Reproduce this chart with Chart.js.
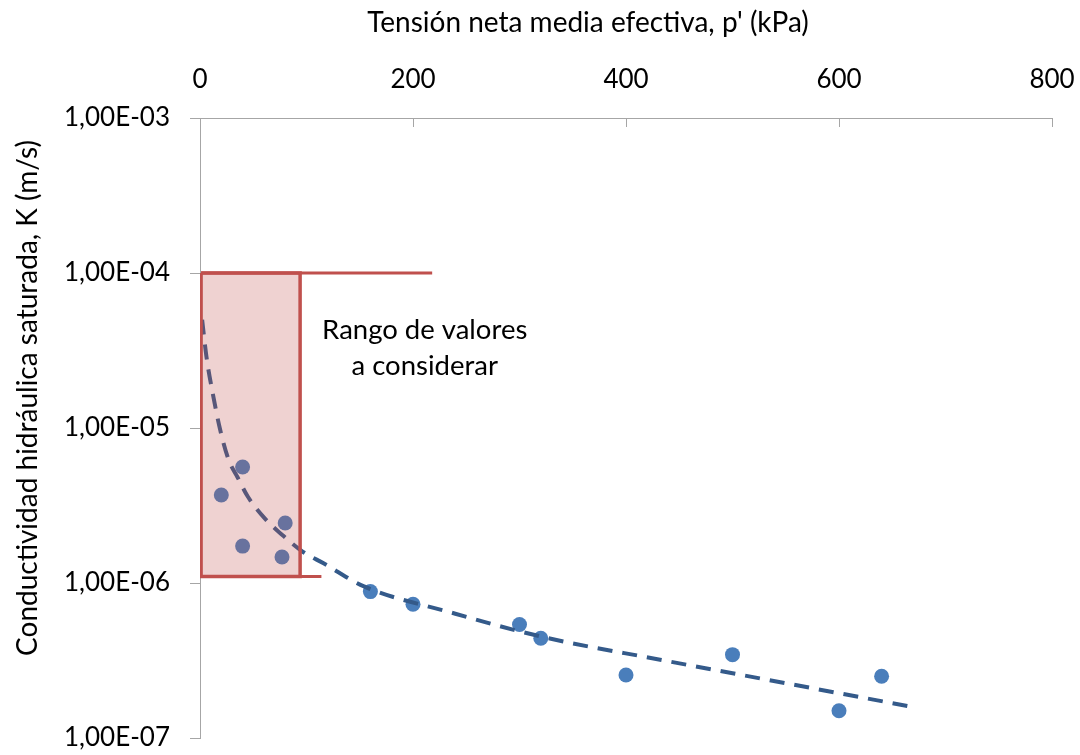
<!DOCTYPE html>
<html lang="es">
<head>
<meta charset="utf-8">
<title>Conductividad hidráulica saturada</title>
<script src="https://cdn.jsdelivr.net/npm/chart.js@4.4.1/dist/chart.umd.min.js"></script>
<style>
  html, body { margin: 0; padding: 0; background: #fff; }
  #wrap { width: 1080px; height: 755px; }
</style>
</head>
<body>
<div id="wrap"><canvas id="kChart"></canvas></div>
<script>
// ensayos: tension neta media efectiva p' (kPa) y conductividad saturada K (m/s)
const tensionKpa   = [20, 40, 40, 80, 77, 160, 200, 300, 320, 400, 500, 600, 640];
const conductividad = [3.7e-6, 5.6e-6, 1.73e-6, 2.44e-6, 1.47e-6, 8.8e-7, 7.3e-7, 5.4e-7, 4.4e-7, 2.55e-7, 3.45e-7, 1.5e-7, 2.5e-7];

// curva de ajuste
const tendenciaX = [2, 6, 12.5, 19, 27, 35, 45, 61, 77, 96, 116, 154, 234, 321, 432, 551, 666];
const tendenciaK = [5.0e-5, 2.9e-5, 1.6e-5, 9.7e-6, 6.2e-6, 4.85e-6, 3.6e-6, 2.6e-6, 2.05e-6, 1.6e-6, 1.34e-6, 9.5e-7, 6.5e-7, 4.5e-7, 3.2e-7, 2.25e-7, 1.6e-7];

// rango de valores a considerar
const rangoX = [1, 94];
const rangoK = [1.0e-4, 1.1e-6];
const finLineaSup = 218;
const finLineaInf = 114;

const ticksX = [0, 200, 400, 600, 800];
const ticksK = [1e-7, 1e-6, 1e-5, 1e-4, 1e-3];

const FUENTE = 'Lato, "Open Sans", sans-serif';
const ROJO = '#c0504d';
const GRIS = '#a6a6a6';

const puntos = tensionKpa.map((p, i) => ({ x: p, y: conductividad[i] }));
const tendencia = tendenciaX.map((p, i) => ({ x: p, y: tendenciaK[i] }));
const rectangulo = [
  { x: rangoX[0], y: rangoK[0] },
  { x: rangoX[1], y: rangoK[0] },
  { x: rangoX[1], y: rangoK[1] },
  { x: rangoX[0], y: rangoK[1] },
  { x: rangoX[0], y: rangoK[0] }
];

// formato 1,00E-03
function formatoCientifico(v) {
  const [m, e] = v.toExponential(2).split('e');
  const exp = parseInt(e, 10);
  const s = exp < 0 ? '-' : '+';
  return m.replace('.', ',') + 'E' + s + String(Math.abs(exp)).padStart(2, '0');
}

const decorado = {
  id: 'decorado',
  afterDraw(chart) {
    const { ctx, chartArea, scales: { x, y } } = chart;
    ctx.save();

    // marcas hacia dentro en el eje superior
    ctx.strokeStyle = GRIS;
    ctx.lineWidth = 1;
    ticksX.forEach(v => {
      const px = Math.round(x.getPixelForValue(v)) + 0.5;
      ctx.beginPath();
      ctx.moveTo(px, chartArea.top);
      ctx.lineTo(px, chartArea.top + 9);
      ctx.stroke();
    });

    ctx.fillStyle = '#000';
    ctx.textAlign = 'center';
    ctx.textBaseline = 'middle';

    // texto del rango
    ctx.font = '27.5px ' + FUENTE;
    const tx = x.getPixelForValue(211);
    ctx.fillText('Rango de valores', tx, y.getPixelForValue(4.28e-5));
    ctx.fillText('a considerar', tx, y.getPixelForValue(2.5e-5));

    // titulos de ejes
    ctx.font = '28px ' + FUENTE;
    ctx.fillText("Tensión neta media efectiva, p' (kPa)", 588, 23);
    ctx.translate(28, 398);
    ctx.rotate(-Math.PI / 2);
    ctx.fillText('Conductividad hidráulica saturada, K (m/s)', 0, 0);
    ctx.restore();
  }
};

const config = {
  type: 'scatter',
  data: {
    datasets: [
      {
        label: 'Rango',
        data: rectangulo,
        showLine: true,
        fill: 'shape',
        backgroundColor: 'rgba(192, 80, 77, 0.26)',
        borderColor: ROJO,
        borderWidth: 3.5,
        pointRadius: 0,
        order: 0
      },
      {
        label: 'Límite superior',
        data: [{ x: rangoX[0], y: rangoK[0] }, { x: finLineaSup, y: rangoK[0] }],
        showLine: true,
        borderColor: ROJO,
        borderWidth: 3,
        pointRadius: 0,
        order: 0
      },
      {
        label: 'Límite inferior',
        data: [{ x: rangoX[0], y: rangoK[1] }, { x: finLineaInf, y: rangoK[1] }],
        showLine: true,
        borderColor: ROJO,
        borderWidth: 3,
        pointRadius: 0,
        order: 0
      },
      {
        label: 'Ajuste',
        data: tendencia,
        showLine: true,
        cubicInterpolationMode: 'monotone',
        borderColor: '#345a8a',
        borderWidth: 4,
        borderDash: [15, 10],
        pointRadius: 0,
        order: 1
      },
      {
        label: 'Ensayos',
        data: puntos,
        backgroundColor: '#4a7ebb',
        borderColor: '#4a7ebb',
        borderWidth: 0,
        pointRadius: 7.5,
        order: 2
      }
    ]
  },
  options: {
    responsive: true,
    maintainAspectRatio: false,
    animation: false,
    layout: { padding: { left: 0, top: 0, right: 28, bottom: 17 } },
    scales: {
      x: {
        type: 'linear',
        position: 'top',
        min: 0,
        max: 800,
        afterFit: s => { s.height = 118; s.paddingRight = 0; s.paddingLeft = 0; },
        afterBuildTicks: s => { s.ticks = ticksX.map(v => ({ value: v })); },
        grid: { drawOnChartArea: false, drawTicks: false },
        border: { display: true, color: GRIS, width: 1 },
        ticks: {
          padding: 23,
          color: '#000',
          font: { family: FUENTE, size: 26 },
          maxRotation: 0
        }
      },
      y: {
        type: 'logarithmic',
        position: 'left',
        min: 1e-7,
        max: 1e-3,
        afterFit: s => { s.width = 200; s.paddingBottom = 0; s.paddingTop = 0; },
        afterBuildTicks: s => { s.ticks = ticksK.map(v => ({ value: v })); },
        grid: { drawOnChartArea: false, drawTicks: true, tickLength: 10, color: GRIS },
        border: { display: true, color: GRIS, width: 1 },
        ticks: {
          padding: 20,
          color: '#000',
          font: { family: FUENTE, size: 26 },
          callback: v => formatoCientifico(v)
        }
      }
    },
    plugins: {
      legend: { display: false },
      tooltip: { enabled: false }
    }
  },
  plugins: [decorado]
};

new Chart(document.getElementById('kChart'), config);
</script>
</body>
</html>
